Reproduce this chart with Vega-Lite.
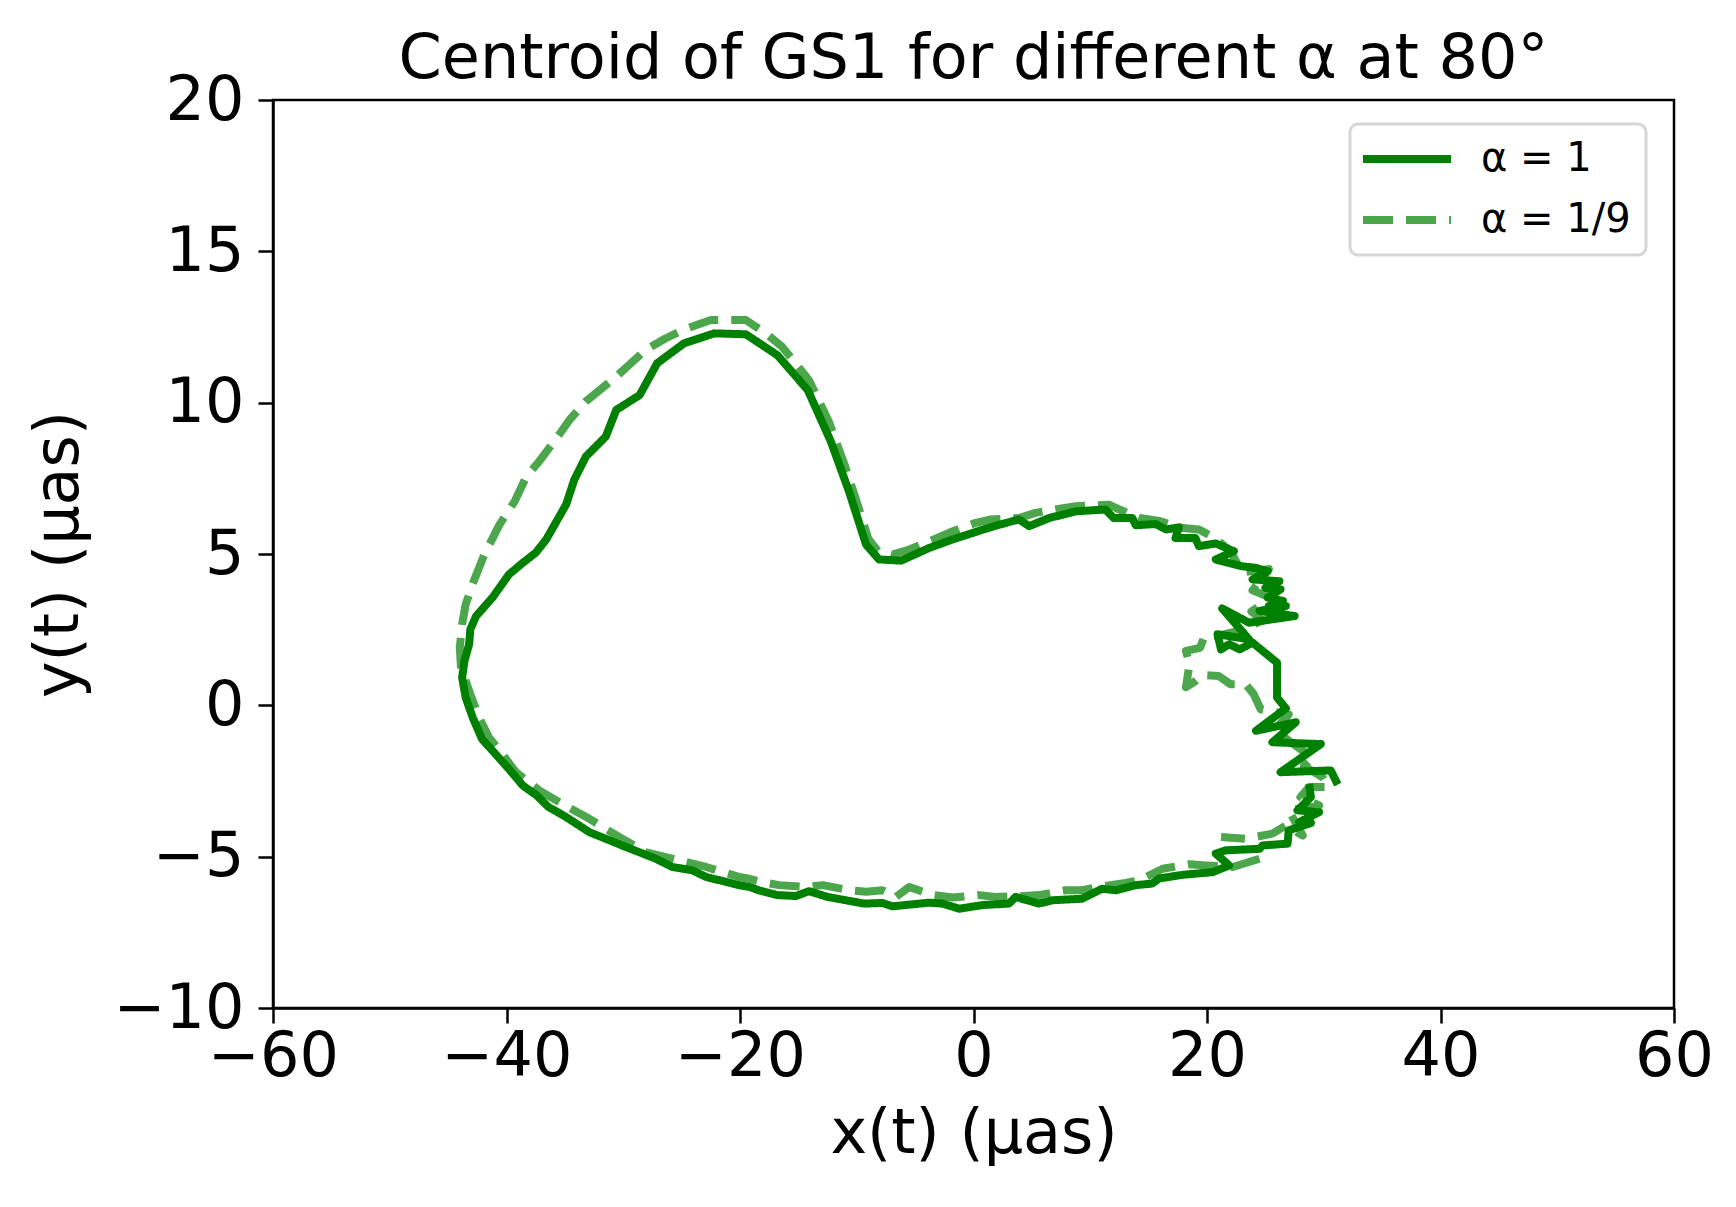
{
  "$schema": "https://vega.github.io/schema/vega-lite/v6.json",
  "width": 1401,
  "height": 908,
  "autosize": {"type": "none"},
  "padding": {"left": 273, "top": 100, "right": 62, "bottom": 199},
  "background": "white",
  "title": {
    "text": "Centroid of GS1 for different α at 80°",
    "font": "DejaVu Sans",
    "fontSize": 62,
    "fontWeight": "normal",
    "color": "black",
    "offset": 6,
    "dy": 28
  },
  "data": {
    "values": [
      {"series": "α = 1", "t": 0, "x": 28.75, "y": -2.6},
      {"series": "α = 1", "t": 1, "x": 28.9, "y": -3.03},
      {"series": "α = 1", "t": 2, "x": 27.75, "y": -3.47},
      {"series": "α = 1", "t": 3, "x": 29.6, "y": -3.53},
      {"series": "α = 1", "t": 4, "x": 27.9, "y": -3.86},
      {"series": "α = 1", "t": 5, "x": 28.9, "y": -3.89},
      {"series": "α = 1", "t": 6, "x": 27.0, "y": -4.13},
      {"series": "α = 1", "t": 7, "x": 26.9, "y": -4.57},
      {"series": "α = 1", "t": 8, "x": 24.75, "y": -4.63},
      {"series": "α = 1", "t": 9, "x": 24.5, "y": -4.74},
      {"series": "α = 1", "t": 10, "x": 21.6, "y": -4.79},
      {"series": "α = 1", "t": 11, "x": 20.75, "y": -4.9},
      {"series": "α = 1", "t": 12, "x": 21.9, "y": -5.29},
      {"series": "α = 1", "t": 13, "x": 20.5, "y": -5.51},
      {"series": "α = 1", "t": 14, "x": 17.9, "y": -5.6},
      {"series": "α = 1", "t": 15, "x": 15.9, "y": -5.72},
      {"series": "α = 1", "t": 16, "x": 15.3, "y": -5.89},
      {"series": "α = 1", "t": 17, "x": 13.9, "y": -5.94},
      {"series": "α = 1", "t": 18, "x": 12.2, "y": -6.11},
      {"series": "α = 1", "t": 19, "x": 11.0, "y": -6.06},
      {"series": "α = 1", "t": 20, "x": 9.3, "y": -6.39},
      {"series": "α = 1", "t": 21, "x": 6.76, "y": -6.44},
      {"series": "α = 1", "t": 22, "x": 5.6, "y": -6.55},
      {"series": "α = 1", "t": 23, "x": 3.6, "y": -6.33},
      {"series": "α = 1", "t": 24, "x": 3.05, "y": -6.55},
      {"series": "α = 1", "t": 25, "x": 0.76, "y": -6.6},
      {"series": "α = 1", "t": 26, "x": -1.23, "y": -6.72},
      {"series": "α = 1", "t": 27, "x": -2.66, "y": -6.55},
      {"series": "α = 1", "t": 28, "x": -3.8, "y": -6.52},
      {"series": "α = 1", "t": 29, "x": -6.95, "y": -6.64},
      {"series": "α = 1", "t": 30, "x": -7.8, "y": -6.53},
      {"series": "α = 1", "t": 31, "x": -9.37, "y": -6.55},
      {"series": "α = 1", "t": 32, "x": -12.5, "y": -6.33},
      {"series": "α = 1", "t": 33, "x": -14.1, "y": -6.14},
      {"series": "α = 1", "t": 34, "x": -15.2, "y": -6.3},
      {"series": "α = 1", "t": 35, "x": -16.8, "y": -6.27},
      {"series": "α = 1", "t": 36, "x": -18.4, "y": -6.11},
      {"series": "α = 1", "t": 37, "x": -19.2, "y": -6.0},
      {"series": "α = 1", "t": 38, "x": -20.1, "y": -5.94},
      {"series": "α = 1", "t": 39, "x": -22.9, "y": -5.67},
      {"series": "α = 1", "t": 40, "x": -24.1, "y": -5.45},
      {"series": "α = 1", "t": 41, "x": -25.8, "y": -5.34},
      {"series": "α = 1", "t": 42, "x": -27.2, "y": -5.07},
      {"series": "α = 1", "t": 43, "x": -30.1, "y": -4.63},
      {"series": "α = 1", "t": 44, "x": -32.9, "y": -4.19},
      {"series": "α = 1", "t": 45, "x": -34.9, "y": -3.69},
      {"series": "α = 1", "t": 46, "x": -36.4, "y": -3.36},
      {"series": "α = 1", "t": 47, "x": -37.4, "y": -2.98},
      {"series": "α = 1", "t": 48, "x": -38.6, "y": -2.65},
      {"series": "α = 1", "t": 49, "x": -39.8, "y": -2.1},
      {"series": "α = 1", "t": 50, "x": -41.2, "y": -1.5},
      {"series": "α = 1", "t": 51, "x": -42.1, "y": -1.11},
      {"series": "α = 1", "t": 52, "x": -42.9, "y": -0.4},
      {"series": "α = 1", "t": 53, "x": -43.5, "y": 0.26},
      {"series": "α = 1", "t": 54, "x": -43.8, "y": 0.92},
      {"series": "α = 1", "t": 55, "x": -43.6, "y": 1.47},
      {"series": "α = 1", "t": 56, "x": -43.2, "y": 2.02},
      {"series": "α = 1", "t": 57, "x": -43.1, "y": 2.51},
      {"series": "α = 1", "t": 58, "x": -42.6, "y": 2.95},
      {"series": "α = 1", "t": 59, "x": -41.2, "y": 3.56},
      {"series": "α = 1", "t": 60, "x": -39.8, "y": 4.32},
      {"series": "α = 1", "t": 61, "x": -38.6, "y": 4.71},
      {"series": "α = 1", "t": 62, "x": -37.5, "y": 5.04},
      {"series": "α = 1", "t": 63, "x": -36.6, "y": 5.48},
      {"series": "α = 1", "t": 64, "x": -34.9, "y": 6.63},
      {"series": "α = 1", "t": 65, "x": -34.2, "y": 7.45},
      {"series": "α = 1", "t": 66, "x": -33.2, "y": 8.22},
      {"series": "α = 1", "t": 67, "x": -31.5, "y": 8.88},
      {"series": "α = 1", "t": 68, "x": -30.6, "y": 9.76},
      {"series": "α = 1", "t": 69, "x": -28.6, "y": 10.25},
      {"series": "α = 1", "t": 70, "x": -27.1, "y": 11.3},
      {"series": "α = 1", "t": 71, "x": -24.8, "y": 11.96},
      {"series": "α = 1", "t": 72, "x": -22.2, "y": 12.29},
      {"series": "α = 1", "t": 73, "x": -19.5, "y": 12.26},
      {"series": "α = 1", "t": 74, "x": -16.8, "y": 11.57},
      {"series": "α = 1", "t": 75, "x": -14.2, "y": 10.42},
      {"series": "α = 1", "t": 76, "x": -12.2, "y": 8.7},
      {"series": "α = 1", "t": 77, "x": -10.65, "y": 7.05},
      {"series": "α = 1", "t": 78, "x": -9.2, "y": 5.31},
      {"series": "α = 1", "t": 79, "x": -8.1, "y": 4.82},
      {"series": "α = 1", "t": 80, "x": -6.2, "y": 4.78},
      {"series": "α = 1", "t": 81, "x": -3.8, "y": 5.2},
      {"series": "α = 1", "t": 82, "x": -1.8, "y": 5.48},
      {"series": "α = 1", "t": 83, "x": 0.76, "y": 5.8},
      {"series": "α = 1", "t": 84, "x": 2.2, "y": 5.97},
      {"series": "α = 1", "t": 85, "x": 3.9, "y": 6.14},
      {"series": "α = 1", "t": 86, "x": 4.76, "y": 5.92},
      {"series": "α = 1", "t": 87, "x": 6.5, "y": 6.19},
      {"series": "α = 1", "t": 88, "x": 8.76, "y": 6.41},
      {"series": "α = 1", "t": 89, "x": 11.3, "y": 6.47},
      {"series": "α = 1", "t": 90, "x": 12.0, "y": 6.19},
      {"series": "α = 1", "t": 91, "x": 13.6, "y": 6.19},
      {"series": "α = 1", "t": 92, "x": 13.9, "y": 5.95},
      {"series": "α = 1", "t": 93, "x": 15.6, "y": 5.99},
      {"series": "α = 1", "t": 94, "x": 16.5, "y": 5.81},
      {"series": "α = 1", "t": 95, "x": 17.6, "y": 5.88},
      {"series": "α = 1", "t": 96, "x": 17.3, "y": 5.53},
      {"series": "α = 1", "t": 97, "x": 19.0, "y": 5.53},
      {"series": "α = 1", "t": 98, "x": 19.3, "y": 5.26},
      {"series": "α = 1", "t": 99, "x": 20.75, "y": 5.35},
      {"series": "α = 1", "t": 100, "x": 22.3, "y": 5.09},
      {"series": "α = 1", "t": 101, "x": 20.75, "y": 4.82},
      {"series": "α = 1", "t": 102, "x": 22.9, "y": 4.6},
      {"series": "α = 1", "t": 103, "x": 24.2, "y": 4.54},
      {"series": "α = 1", "t": 104, "x": 25.2, "y": 4.43},
      {"series": "α = 1", "t": 105, "x": 23.9, "y": 4.16},
      {"series": "α = 1", "t": 106, "x": 26.2, "y": 4.1},
      {"series": "α = 1", "t": 107, "x": 25.0, "y": 3.88},
      {"series": "α = 1", "t": 108, "x": 26.3, "y": 3.83},
      {"series": "α = 1", "t": 109, "x": 25.2, "y": 3.56},
      {"series": "α = 1", "t": 110, "x": 26.5, "y": 3.45},
      {"series": "α = 1", "t": 111, "x": 25.3, "y": 3.28},
      {"series": "α = 1", "t": 112, "x": 26.75, "y": 3.28},
      {"series": "α = 1", "t": 113, "x": 24.5, "y": 3.12},
      {"series": "α = 1", "t": 114, "x": 27.5, "y": 2.95},
      {"series": "α = 1", "t": 115, "x": 23.6, "y": 2.73},
      {"series": "α = 1", "t": 116, "x": 21.3, "y": 3.2},
      {"series": "α = 1", "t": 117, "x": 23.6, "y": 2.18},
      {"series": "α = 1", "t": 118, "x": 20.9, "y": 2.35},
      {"series": "α = 1", "t": 119, "x": 21.2, "y": 1.85},
      {"series": "α = 1", "t": 120, "x": 21.9, "y": 2.02},
      {"series": "α = 1", "t": 121, "x": 22.8, "y": 1.85},
      {"series": "α = 1", "t": 122, "x": 23.9, "y": 2.07},
      {"series": "α = 1", "t": 123, "x": 26.0, "y": 1.41},
      {"series": "α = 1", "t": 124, "x": 26.0, "y": 0.26},
      {"series": "α = 1", "t": 125, "x": 26.75, "y": -0.1},
      {"series": "α = 1", "t": 126, "x": 24.2, "y": -0.84},
      {"series": "α = 1", "t": 127, "x": 27.6, "y": -0.56},
      {"series": "α = 1", "t": 128, "x": 25.6, "y": -1.22},
      {"series": "α = 1", "t": 129, "x": 29.75, "y": -1.28},
      {"series": "α = 1", "t": 130, "x": 26.3, "y": -2.21},
      {"series": "α = 1", "t": 131, "x": 30.6, "y": -2.15},
      {"series": "α = 1", "t": 132, "x": 31.2, "y": -2.62},
      {"series": "α = 1/9", "t": 0, "x": 24.5, "y": -5.07},
      {"series": "α = 1/9", "t": 1, "x": 22.2, "y": -5.34},
      {"series": "α = 1/9", "t": 2, "x": 19.9, "y": -5.29},
      {"series": "α = 1/9", "t": 3, "x": 18.5, "y": -5.25},
      {"series": "α = 1/9", "t": 4, "x": 16.2, "y": -5.4},
      {"series": "α = 1/9", "t": 5, "x": 14.2, "y": -5.78},
      {"series": "α = 1/9", "t": 6, "x": 13.0, "y": -5.87},
      {"series": "α = 1/9", "t": 7, "x": 10.75, "y": -6.0},
      {"series": "α = 1/9", "t": 8, "x": 9.3, "y": -6.11},
      {"series": "α = 1/9", "t": 9, "x": 7.9, "y": -6.11},
      {"series": "α = 1/9", "t": 10, "x": 5.6, "y": -6.27},
      {"series": "α = 1/9", "t": 11, "x": 3.9, "y": -6.31},
      {"series": "α = 1/9", "t": 12, "x": 1.9, "y": -6.33},
      {"series": "α = 1/9", "t": 13, "x": 0.48, "y": -6.27},
      {"series": "α = 1/9", "t": 14, "x": -1.8, "y": -6.35},
      {"series": "α = 1/9", "t": 15, "x": -3.5, "y": -6.27},
      {"series": "α = 1/9", "t": 16, "x": -5.5, "y": -6.0},
      {"series": "α = 1/9", "t": 17, "x": -6.65, "y": -6.33},
      {"series": "α = 1/9", "t": 18, "x": -7.8, "y": -6.11},
      {"series": "α = 1/9", "t": 19, "x": -9.2, "y": -6.16},
      {"series": "α = 1/9", "t": 20, "x": -10.65, "y": -6.11},
      {"series": "α = 1/9", "t": 21, "x": -12.9, "y": -5.94},
      {"series": "α = 1/9", "t": 22, "x": -14.4, "y": -6.0},
      {"series": "α = 1/9", "t": 23, "x": -16.65, "y": -5.94},
      {"series": "α = 1/9", "t": 24, "x": -18.1, "y": -5.84},
      {"series": "α = 1/9", "t": 25, "x": -19.2, "y": -5.73},
      {"series": "α = 1/9", "t": 26, "x": -20.1, "y": -5.67},
      {"series": "α = 1/9", "t": 27, "x": -22.9, "y": -5.34},
      {"series": "α = 1/9", "t": 28, "x": -25.2, "y": -5.12},
      {"series": "α = 1/9", "t": 29, "x": -28.1, "y": -4.85},
      {"series": "α = 1/9", "t": 30, "x": -30.35, "y": -4.35},
      {"series": "α = 1/9", "t": 31, "x": -32.9, "y": -3.75},
      {"series": "α = 1/9", "t": 32, "x": -35.2, "y": -3.26},
      {"series": "α = 1/9", "t": 33, "x": -37.2, "y": -2.81},
      {"series": "α = 1/9", "t": 34, "x": -39.2, "y": -2.21},
      {"series": "α = 1/9", "t": 35, "x": -40.35, "y": -1.61},
      {"series": "α = 1/9", "t": 36, "x": -41.5, "y": -1.06},
      {"series": "α = 1/9", "t": 37, "x": -42.35, "y": -0.4},
      {"series": "α = 1/9", "t": 38, "x": -43.1, "y": 0.37},
      {"series": "α = 1/9", "t": 39, "x": -43.9, "y": 1.25},
      {"series": "α = 1/9", "t": 40, "x": -44.0, "y": 1.91},
      {"series": "α = 1/9", "t": 41, "x": -43.8, "y": 2.68},
      {"series": "α = 1/9", "t": 42, "x": -43.5, "y": 3.33},
      {"series": "α = 1/9", "t": 43, "x": -42.8, "y": 4.11},
      {"series": "α = 1/9", "t": 44, "x": -41.9, "y": 4.98},
      {"series": "α = 1/9", "t": 45, "x": -40.6, "y": 5.97},
      {"series": "α = 1/9", "t": 46, "x": -39.3, "y": 6.74},
      {"series": "α = 1/9", "t": 47, "x": -38.3, "y": 7.56},
      {"series": "α = 1/9", "t": 48, "x": -37.2, "y": 8.06},
      {"series": "α = 1/9", "t": 49, "x": -35.5, "y": 8.94},
      {"series": "α = 1/9", "t": 50, "x": -34.6, "y": 9.43},
      {"series": "α = 1/9", "t": 51, "x": -33.2, "y": 10.04},
      {"series": "α = 1/9", "t": 52, "x": -30.6, "y": 10.86},
      {"series": "α = 1/9", "t": 53, "x": -28.1, "y": 11.74},
      {"series": "α = 1/9", "t": 54, "x": -26.4, "y": 12.12},
      {"series": "α = 1/9", "t": 55, "x": -24.6, "y": 12.45},
      {"series": "α = 1/9", "t": 56, "x": -22.5, "y": 12.73},
      {"series": "α = 1/9", "t": 57, "x": -20.7, "y": 12.73},
      {"series": "α = 1/9", "t": 58, "x": -19.5, "y": 12.73},
      {"series": "α = 1/9", "t": 59, "x": -17.8, "y": 12.29},
      {"series": "α = 1/9", "t": 60, "x": -16.4, "y": 11.85},
      {"series": "α = 1/9", "t": 61, "x": -14.1, "y": 10.75},
      {"series": "α = 1/9", "t": 62, "x": -12.4, "y": 9.38},
      {"series": "α = 1/9", "t": 63, "x": -11.0, "y": 7.9},
      {"series": "α = 1/9", "t": 64, "x": -9.9, "y": 6.6},
      {"series": "α = 1/9", "t": 65, "x": -9.0, "y": 5.5},
      {"series": "α = 1/9", "t": 66, "x": -8.2, "y": 5.1},
      {"series": "α = 1/9", "t": 67, "x": -6.95, "y": 4.98},
      {"series": "α = 1/9", "t": 68, "x": -5.5, "y": 5.15},
      {"series": "α = 1/9", "t": 69, "x": -3.4, "y": 5.48},
      {"series": "α = 1/9", "t": 70, "x": -2.1, "y": 5.7},
      {"series": "α = 1/9", "t": 71, "x": 0.2, "y": 6.03},
      {"series": "α = 1/9", "t": 72, "x": 1.5, "y": 6.14},
      {"series": "α = 1/9", "t": 73, "x": 3.9, "y": 6.19},
      {"series": "α = 1/9", "t": 74, "x": 5.3, "y": 6.36},
      {"series": "α = 1/9", "t": 75, "x": 8.76, "y": 6.58},
      {"series": "α = 1/9", "t": 76, "x": 11.6, "y": 6.63},
      {"series": "α = 1/9", "t": 77, "x": 12.5, "y": 6.47},
      {"series": "α = 1/9", "t": 78, "x": 14.2, "y": 6.19},
      {"series": "α = 1/9", "t": 79, "x": 15.8, "y": 6.1},
      {"series": "α = 1/9", "t": 80, "x": 17.9, "y": 5.86},
      {"series": "α = 1/9", "t": 81, "x": 19.3, "y": 5.81},
      {"series": "α = 1/9", "t": 82, "x": 20.6, "y": 5.55},
      {"series": "α = 1/9", "t": 83, "x": 22.0, "y": 5.1},
      {"series": "α = 1/9", "t": 84, "x": 23.0, "y": 4.4},
      {"series": "α = 1/9", "t": 85, "x": 25.3, "y": 4.5},
      {"series": "α = 1/9", "t": 86, "x": 23.9, "y": 3.8},
      {"series": "α = 1/9", "t": 87, "x": 25.5, "y": 3.55},
      {"series": "α = 1/9", "t": 88, "x": 23.8, "y": 3.1},
      {"series": "α = 1/9", "t": 89, "x": 24.75, "y": 2.8},
      {"series": "α = 1/9", "t": 90, "x": 22.6, "y": 2.45},
      {"series": "α = 1/9", "t": 91, "x": 21.0, "y": 2.3},
      {"series": "α = 1/9", "t": 92, "x": 19.8, "y": 2.3},
      {"series": "α = 1/9", "t": 93, "x": 19.4, "y": 1.9},
      {"series": "α = 1/9", "t": 94, "x": 18.2, "y": 1.8},
      {"series": "α = 1/9", "t": 95, "x": 18.5, "y": 1.36},
      {"series": "α = 1/9", "t": 96, "x": 18.2, "y": 0.6},
      {"series": "α = 1/9", "t": 97, "x": 19.0, "y": 0.8},
      {"series": "α = 1/9", "t": 98, "x": 19.6, "y": 1.0},
      {"series": "α = 1/9", "t": 99, "x": 21.0, "y": 0.97},
      {"series": "α = 1/9", "t": 100, "x": 22.0, "y": 0.7},
      {"series": "α = 1/9", "t": 101, "x": 23.3, "y": 0.7},
      {"series": "α = 1/9", "t": 102, "x": 24.0, "y": 0.37},
      {"series": "α = 1/9", "t": 103, "x": 24.6, "y": -0.13},
      {"series": "α = 1/9", "t": 104, "x": 25.5, "y": -0.2},
      {"series": "α = 1/9", "t": 105, "x": 27.0, "y": -0.3},
      {"series": "α = 1/9", "t": 106, "x": 25.8, "y": -0.8},
      {"series": "α = 1/9", "t": 107, "x": 27.0, "y": -1.17},
      {"series": "α = 1/9", "t": 108, "x": 29.0, "y": -1.72},
      {"series": "α = 1/9", "t": 109, "x": 28.3, "y": -2.0},
      {"series": "α = 1/9", "t": 110, "x": 29.9, "y": -2.38},
      {"series": "α = 1/9", "t": 111, "x": 30.4, "y": -2.7},
      {"series": "α = 1/9", "t": 112, "x": 28.75, "y": -2.7},
      {"series": "α = 1/9", "t": 113, "x": 28.0, "y": -3.03},
      {"series": "α = 1/9", "t": 114, "x": 29.6, "y": -3.31},
      {"series": "α = 1/9", "t": 115, "x": 27.0, "y": -3.47},
      {"series": "α = 1/9", "t": 116, "x": 28.2, "y": -4.3},
      {"series": "α = 1/9", "t": 117, "x": 26.75, "y": -3.97},
      {"series": "α = 1/9", "t": 118, "x": 25.6, "y": -4.24},
      {"series": "α = 1/9", "t": 119, "x": 23.3, "y": -4.41},
      {"series": "α = 1/9", "t": 120, "x": 21.2, "y": -4.35}
    ]
  },
  "mark": {"type": "line", "strokeWidth": 8, "strokeJoin": "round", "strokeCap": "butt"},
  "encoding": {
    "x": {
      "field": "x",
      "type": "quantitative",
      "scale": {"domain": [-60, 60], "nice": false, "zero": false},
      "axis": {"values": [-60, -40, -20, 0, 20, 40, 60], "title": "x(t) (μas)", "labelPadding": 3, "titlePadding": 16}
    },
    "y": {
      "field": "y",
      "type": "quantitative",
      "scale": {"domain": [-10, 20], "nice": false, "zero": false},
      "axis": {"values": [-10, -5, 0, 5, 10, 15, 20], "title": "y(t) (μas)", "labelPadding": 14, "titlePadding": 23}
    },
    "order": {"field": "t", "type": "quantitative"},
    "color": {
      "field": "series",
      "type": "nominal",
      "scale": {"domain": ["α = 1", "α = 1/9"], "range": ["#008000", "#008000"]}
    },
    "strokeDash": {
      "field": "series",
      "type": "nominal",
      "scale": {"domain": ["α = 1", "α = 1/9"], "range": [[1, 0], [30, 13]]}
    },
    "opacity": {
      "field": "series",
      "type": "nominal",
      "scale": {"domain": ["α = 1", "α = 1/9"], "range": [1, 0.7]}
    }
  },
  "config": {
    "font": "DejaVu Sans",
    "view": {"stroke": "black", "strokeWidth": 2.5},
    "axis": {
      "grid": false,
      "labelFlush": false,
      "labelOverlap": false,
      "domainColor": "black",
      "domainWidth": 2.5,
      "tickColor": "black",
      "tickWidth": 2.5,
      "tickSize": 15,
      "labelFont": "DejaVu Sans",
      "labelFontSize": 62,
      "labelColor": "black",
      "titleFont": "DejaVu Sans",
      "titleFontSize": 62,
      "titleFontWeight": "normal",
      "titleColor": "black"
    },
    "legend": {
      "title": null,
      "orient": "none",
      "legendX": 1077,
      "legendY": 24,
      "symbolType": "M-1.5,0H4.5",
      "symbolSize": 860,
      "symbolStrokeWidth": 8,
      "labelOffset": 76,
      "labelFont": "DejaVu Sans",
      "labelFontSize": 40,
      "labelColor": "black",
      "padding": 15,
      "rowPadding": 21,
      "strokeColor": "#d6d6d6",
      "strokeWidth": 3,
      "fillColor": "white",
      "cornerRadius": 8
    }
  }
}
